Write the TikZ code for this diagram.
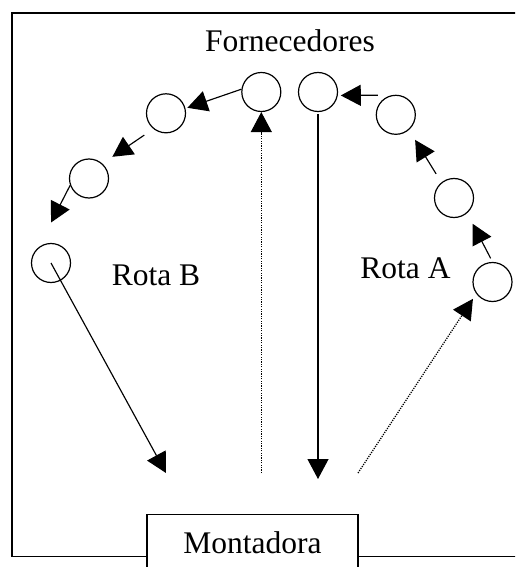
\documentclass[tikz,border=0pt]{standalone}
\usepackage{fontspec}
\setmainfont{Liberation Serif}
\usetikzlibrary{arrows.meta}
\begin{document}
\begin{tikzpicture}[x=1pt,y=-1pt,
  sup/.style={circle,draw,line width=1.2pt,minimum size=39pt,inner sep=0pt},
  lab/.style={anchor=base,inner sep=0pt,font=\fontsize{31.5}{36}\selectfont},
  arr/.style={line width=1.15pt,-{Triangle[length=20pt,width=21pt]}},
  dot/.style={line width=1.25pt,dash pattern=on 1.2pt off 1.2pt,-{Triangle[length=20pt,width=21pt]}}]
\useasboundingbox (0,0) rectangle (515,567);
\clip (0,0) rectangle (515,567);
\draw[line width=1.3pt] (12,13) rectangle (540,556.7);
\node[draw,fill=white,line width=1.3pt,minimum width=211pt,minimum height=57.4pt,anchor=north,inner sep=0pt,font=\fontsize{31.5}{36}\selectfont] (mont) at (252.5,513.5) {Montadora};
\node[lab] (forn) at (290,52) {Fornecedores};
\node[lab] (rotab) at (156,285) {Rota B};
\node[lab] (rotaa) at (405.5,278) {Rota A};
\node[sup] (c1) at (261.3,92) {};
\node[sup] (c2) at (318,92) {};
\node[sup] (c3) at (166,113.3) {};
\node[sup] (c4) at (89,178.5) {};
\node[sup] (c5) at (51,263) {};
\node[sup] (c6) at (395.8,114.8) {};
\node[sup] (c7) at (454,198) {};
\node[sup] (c8) at (492.5,282) {};
\coordinate (b1) at (166,473);
\coordinate (d1) at (261.3,473);
\coordinate (d2) at (318,479);
\coordinate (d3) at (358,473);
% Rota B
\draw[arr,shorten >=2pt] (c1.172) -- (c3.14);
\draw[arr,shorten <=11pt,shorten >=12pt] (c3.231) -- (c4.48);
\draw[arr,shorten >=28pt] (c4.200) -- (c5.129);
\draw[arr] (c5.center) -- (b1);
\draw[dot] (d1) -- (c1.south);
% Rota A
\draw[arr,shorten <=2pt] (c2.south) -- (d2);
\draw[dot,shorten >=6pt] (d3) -- (c8.216);
\draw[arr,shorten <=4pt,shorten >=12pt] (c8.90) -- (c7.311.5);
\draw[arr,shorten <=10pt,shorten >=11.7pt] (c7.129.6) -- (c6.311.6);
\draw[arr,shorten <=14pt,shorten >=3pt] (c6.101.5) -- (c2.350.5);
\end{tikzpicture}
\end{document}
